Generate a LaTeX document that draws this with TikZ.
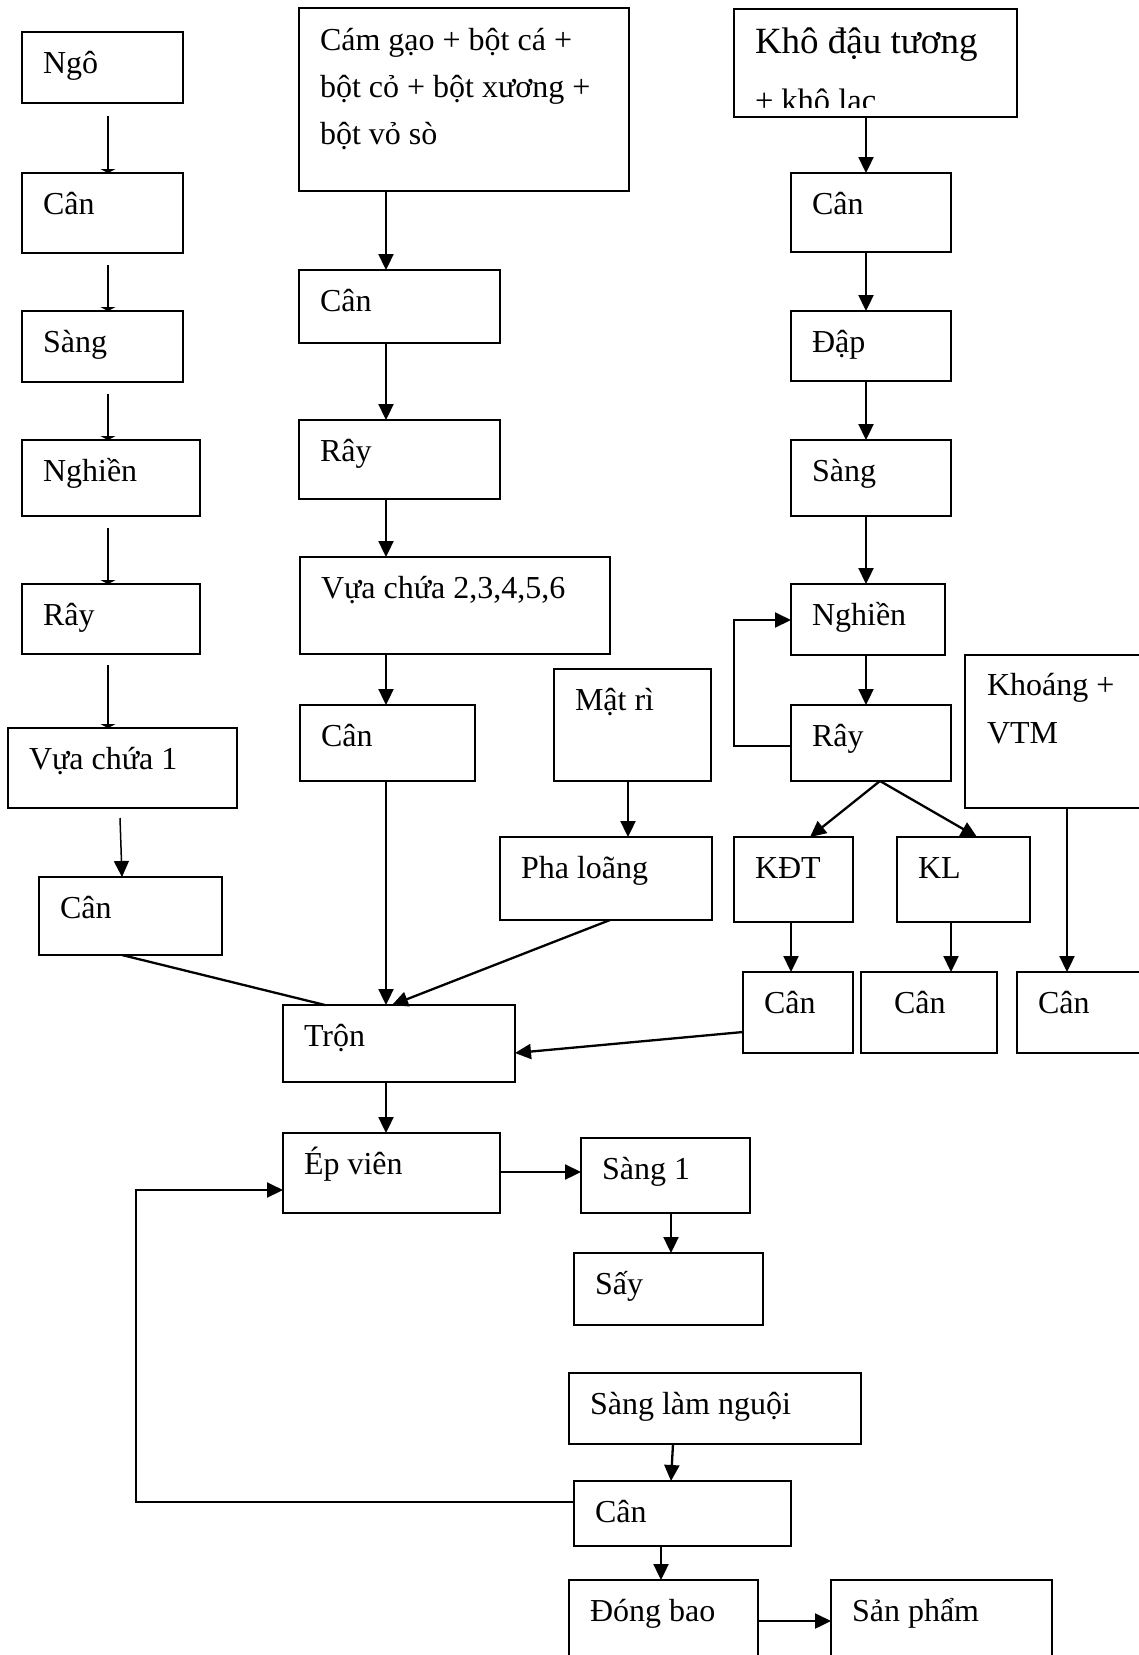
\documentclass[tikz,border=0pt]{standalone}
\usepackage{fontspec}
\setmainfont{Liberation Serif}
\usetikzlibrary{arrows.meta,calc}

\tikzset{
  box/.style={draw, line width=2.1pt, rectangle, inner sep=0pt, outer sep=0pt, anchor=north west},
  lbl/.style={inner sep=0pt, outer sep=0pt, anchor=base west, font=\fontsize{32}{46}\selectfont},
  arr/.style={line width=2.3pt, -{Triangle[width=15pt,length=16pt]}},
  thinarr/.style={line width=1.5pt, -{Triangle[width=15pt,length=4pt]}},
  thinhead/.style={line width=1.5pt, -{Triangle[width=15pt,length=16pt]}},
  link/.style={line width=2.3pt},
  loop/.style={line width=2pt, -{Triangle[width=15pt,length=16pt]}},
}

% box: name, x1, y1, x2, y2, label
\newcommand{\bx}[6]{%
  \pgfmathsetmacro\bw{#4-#2}\pgfmathsetmacro\bh{#5-#3}%
  \node[box, minimum width=\bw pt, minimum height=\bh pt] (#1) at (#2,#3) {};
  \node[lbl] (#1-t) at ($(#1.north west)+(21,41)$) {#6};
}
% box without label
\newcommand{\ebx}[5]{%
  \pgfmathsetmacro\bw{#4-#2}\pgfmathsetmacro\bh{#5-#3}%
  \node[box, minimum width=\bw pt, minimum height=\bh pt] (#1) at (#2,#3) {};
}

\begin{document}
\begin{tikzpicture}[x=1pt,y=-1pt]
\fill[white] (0,0) rectangle (1139,1655);
\useasboundingbox (0,0) rectangle (1139,1655);

% column guides
\coordinate (cl) at (108,0);
\coordinate (cm) at (386,0);
\coordinate (cr) at (866,0);

% ---- left column: maize ----
\bx{ngo}{22}{32}{183}{103}{Ngô}
\bx{canL1}{22}{173}{183}{253}{Cân}
\bx{sangL}{22}{311}{183}{382}{Sàng}
\bx{nghienL}{22}{440}{200}{516}{Nghiền}
\bx{rayL}{22}{584}{200}{654}{Rây}
\bx{vuaL}{8}{728}{237}{808}{Vựa chứa 1}
\bx{canL2}{39}{877}{222}{955}{Cân}

\draw[thinarr] ($(ngo.south -| cl)+(0,13)$) -- (canL1.north -| cl);
\draw[thinarr] ($(canL1.south -| cl)+(0,12)$) -- (sangL.north -| cl);
\draw[thinarr] ($(sangL.south -| cl)+(0,12)$) -- (nghienL.north -| cl);
\draw[thinarr] ($(nghienL.south -| cl)+(0,12)$) -- (rayL.north -| cl);
\draw[thinarr] ($(rayL.south -| cl)+(0,11)$) -- (vuaL.north -| cl);
\draw[thinhead] ($(vuaL.south west)+(112,10)$) -- ($(canL2.north west)+(83,0)$);

% ---- middle column: bran and meals ----
\ebx{bigM}{299}{8}{629}{191}
\node[lbl] (bigM-t1) at ($(bigM.north west)+(21,42)$) {Cám gạo + bột cá +};
\node[lbl] (bigM-t2) at ($(bigM.north west)+(21,89)$) {bột cỏ + bột xương +};
\node[lbl] (bigM-t3) at ($(bigM.north west)+(21,136)$) {bột vỏ sò};
\bx{canM1}{299}{270}{500}{343}{Cân}
\bx{rayM}{299}{420}{500}{499}{Rây}
\bx{vuaM}{300}{557}{610}{654}{Vựa chứa 2,3,4,5,6}
\bx{canM2}{300}{705}{475}{781}{Cân}
\bx{matri}{554}{669}{711}{781}{Mật rì}
\bx{phaloang}{500}{837}{712}{920}{Pha loãng}
\bx{tron}{283}{1005}{515}{1082}{Trộn}

\draw[arr] (bigM.south -| cm) -- (canM1.north -| cm);
\draw[arr] (canM1.south -| cm) -- (rayM.north -| cm);
\draw[arr] (rayM.south -| cm) -- (vuaM.north -| cm);
\draw[arr] (vuaM.south -| cm) -- (canM2.north -| cm);
\draw[arr] (canM2.south -| cm) -- (tron.north -| cm);
\draw[arr] ($(matri.south west)+(74,0)$) -- ($(phaloang.north west)+(128,0)$);
\draw[arr] ($(phaloang.south west)+(110,0)$) -- ($(tron.north west)+(109,0)$);
\draw[link] ($(canL2.south west)+(83,0)$) -- ($(tron.north west)+(42,0)$);

% ---- right column: oil cakes ----
\ebx{kho}{734}{9}{1017}{117}
\begin{scope}
  \clip (734,9) rectangle (1017,107);
  \node[lbl, font=\fontsize{37}{40}\selectfont] (kho-t1) at ($(kho.north west)+(21,44)$) {Khô đậu tương};
  \node[lbl, font=\fontsize{32.5}{40}\selectfont] (kho-t2) at ($(kho.north west)+(21,102)$) {+ khô lạc};
\end{scope}
\bx{canR1}{791}{173}{951}{252}{Cân}
\bx{dap}{791}{311}{951}{381}{Đập}
\bx{sangR}{791}{440}{951}{516}{Sàng}
\bx{nghienR}{791}{584}{945}{655}{Nghiền}
\bx{rayR}{791}{705}{951}{781}{Rây}
\ebx{khoang}{965}{655}{1170}{808}
\node[lbl] (khoang-t1) at ($(khoang.north west)+(22,40)$) {Khoáng +};
\node[lbl] (khoang-t2) at ($(khoang.north west)+(22,88)$) {VTM};
\bx{kdt}{734}{837}{853}{922}{KĐT}
\bx{kl}{897}{837}{1030}{922}{KL}
\bx{canK1}{743}{972}{853}{1053}{Cân}
\ebx{canK2}{861}{972}{997}{1053}
\node[lbl] (canK2-t) at ($(canK2.north west)+(33,41)$) {Cân};
\bx{canK3}{1017}{972}{1170}{1053}{Cân}

\draw[arr] (kho.south -| cr) -- (canR1.north -| cr);
\draw[arr] (canR1.south -| cr) -- (dap.north -| cr);
\draw[arr] (dap.south -| cr) -- (sangR.north -| cr);
\draw[arr] (sangR.south -| cr) -- (nghienR.north -| cr);
\draw[arr] (nghienR.south -| cr) -- (rayR.north -| cr);
\draw[loop] ($(rayR.north west)+(0,41)$) -| ($(nghienR.north west)+(-57,36)$) -- ($(nghienR.north west)+(0,36)$);
\draw[arr] ($(rayR.south west)+(89,0)$) -- ($(kdt.north west)+(76,0)$);
\draw[arr] ($(rayR.south west)+(89,0)$) -- ($(kl.north west)+(80,0)$);
\draw[arr] ($(kdt.south west)+(57,0)$) -- ($(canK1.north west)+(48,0)$);
\draw[arr] ($(kl.south west)+(54,0)$) -- ($(canK2.north west)+(90,0)$);
\draw[arr] ($(khoang.south west)+(102,0)$) -- ($(canK3.north west)+(50,0)$);
\draw[arr] ($(canK1.south west)+(0,-21)$) -- ($(tron.south east)+(0,-29)$);

% ---- pelleting and finishing ----
\bx{epvien}{283}{1133}{500}{1213}{Ép viên}
\bx{sang1}{581}{1138}{750}{1213}{Sàng 1}
\bx{say}{574}{1253}{763}{1325}{Sấy}
\bx{sanglam}{569}{1373}{861}{1444}{Sàng làm nguội}
\bx{canB}{574}{1481}{791}{1546}{Cân}
\bx{dongbao}{569}{1580}{758}{1690}{Đóng bao}
\bx{sanpham}{831}{1580}{1052}{1690}{Sản phẩm}

\draw[arr] (tron.south -| cm) -- (epvien.north -| cm);
\draw[arr] ($(epvien.north east)+(0,39)$) coordinate (ev) -- (ev -| sang1.west);
\draw[arr] ($(sang1.south west)+(90,0)$) -- ($(say.north west)+(97,0)$);
\draw[arr] ($(sanglam.south west)+(104,0)$) -- ($(canB.north west)+(97,0)$);
\draw[arr] ($(canB.south west)+(87,0)$) -- ($(dongbao.north west)+(92,0)$);
\draw[arr] ($(dongbao.north east)+(0,41)$) coordinate (db) -- (db -| sanpham.west);
\draw[loop] ($(canB.north west)+(0,21)$) -| ($(epvien.north west)+(-147,57)$) -- ($(epvien.north west)+(0,57)$);
\end{tikzpicture}
\end{document}
